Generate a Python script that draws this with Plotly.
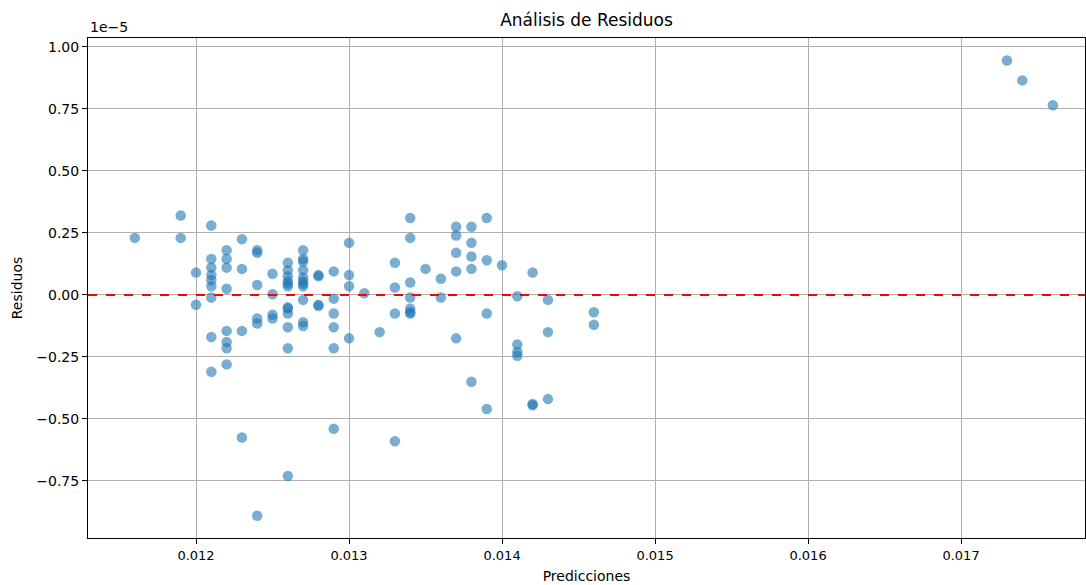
import plotly.graph_objects as go

# Predictions (x) and residuals (y, in units of 1e-5)
pred = (
    [0.0116]
    + [0.0119] * 2
    + [0.0120] * 2
    + [0.0121] * 9
    + [0.0122] * 8
    + [0.0123] * 4
    + [0.0124] * 6
    + [0.0125] * 4
    + [0.0126] * 12
    + [0.0127] * 11
    + [0.0128] * 4
    + [0.0129] * 6
    + [0.0130] * 4
    + [0.0131]
    + [0.0132]
    + [0.0133] * 4
    + [0.0134] * 7
    + [0.0135]
    + [0.0136] * 2
    + [0.0137] * 5
    + [0.0138] * 5
    + [0.0139] * 4
    + [0.0140]
    + [0.0141] * 4
    + [0.0142] * 3
    + [0.0143] * 3
    + [0.0146] * 2
    + [0.0173, 0.0174, 0.0176]
)

resid_1e5 = [
    0.23,
    0.32, 0.23,
    0.09, -0.04,
    0.28, 0.145, 0.11, 0.08, 0.06, 0.035, -0.01, -0.17, -0.31,
    0.18, 0.145, 0.11, 0.025, -0.145, -0.19, -0.215, -0.28,
    0.225, 0.105, -0.145, -0.575,
    0.18, 0.17, 0.04, -0.095, -0.115, -0.89,
    0.085, 0.003, -0.08, -0.095,
    0.13, 0.10, 0.075, 0.055, 0.045, 0.035, -0.05, -0.055, -0.075, -0.13, -0.215, -0.73,
    0.18, 0.145, 0.135, 0.10, 0.07, 0.055, 0.045, 0.035, -0.02, -0.11, -0.125,
    0.075, 0.08, -0.04, -0.045,
    0.095, -0.015, -0.075, -0.13, -0.215, -0.54,
    0.21, 0.08, 0.035, -0.175,
    0.007,
    -0.15,
    0.13, 0.03, -0.075, -0.59,
    0.31, 0.23, 0.05, -0.01, -0.055, -0.07, -0.075,
    0.105,
    0.065, -0.01,
    0.275, 0.24, 0.17, 0.095, -0.175,
    0.275, 0.21, 0.155, 0.105, -0.35,
    0.31, 0.14, -0.075, -0.46,
    0.12,
    -0.005, -0.20, -0.23, -0.245,
    0.09, -0.44, -0.445,
    -0.02, -0.15, -0.42,
    -0.07, -0.12,
    0.945, 0.865, 0.765,
]

x_ticks = [0.012, 0.013, 0.014, 0.015, 0.016, 0.017]
y_ticks = [-0.75, -0.50, -0.25, 0.00, 0.25, 0.50, 0.75, 1.00]

FONT = "DejaVu Sans"

fig = go.Figure()
fig.add_trace(go.Scatter(
    x=pred, y=resid_1e5, mode="markers",
    marker=dict(color="#1f77b4", size=10.5, opacity=0.6, line=dict(width=0)),
    showlegend=False,
))
fig.add_hline(y=0, line=dict(color="red", dash="dash", width=2))

fig.update_layout(
    width=1086, height=585,
    margin=dict(l=88, r=1, t=38, b=47),
    paper_bgcolor="white", plot_bgcolor="white",
    font=dict(family=FONT, size=14, color="black"),
    title=dict(text="Análisis de Residuos", x=0.5, xanchor="center",
               xref="paper", y=1 - 20 / 585, yanchor="middle",
               font=dict(size=17, family=FONT)),
    xaxis=dict(
        range=[0.011294, 0.01781], tickvals=x_ticks, tickformat=".3f",
        showgrid=True, gridcolor="#b0b0b0", gridwidth=1,
        showline=True, linecolor="black", linewidth=1, mirror=True,
        ticks="outside", ticklen=5, tickcolor="black", zeroline=False,
        tickfont=dict(size=13),
        title=dict(text="Predicciones", font=dict(size=14), standoff=9),
    ),
    yaxis=dict(
        range=[-0.98, 1.036], tickvals=y_ticks, tickformat=".2f",
        showgrid=True, gridcolor="#b0b0b0", gridwidth=1,
        showline=True, linecolor="black", linewidth=1, mirror=True,
        ticks="outside", ticklen=5, tickcolor="black", zeroline=False,
        tickfont=dict(size=14),
        title=dict(text="Residuos", font=dict(size=14), standoff=10),
    ),
)
fig.add_annotation(text="1e\u22125", xref="paper", yref="paper", x=0, y=1,
                   xanchor="left", yanchor="bottom", yshift=1,
                   showarrow=False, font=dict(size=14, family=FONT))

fig.write_html("out.html")
